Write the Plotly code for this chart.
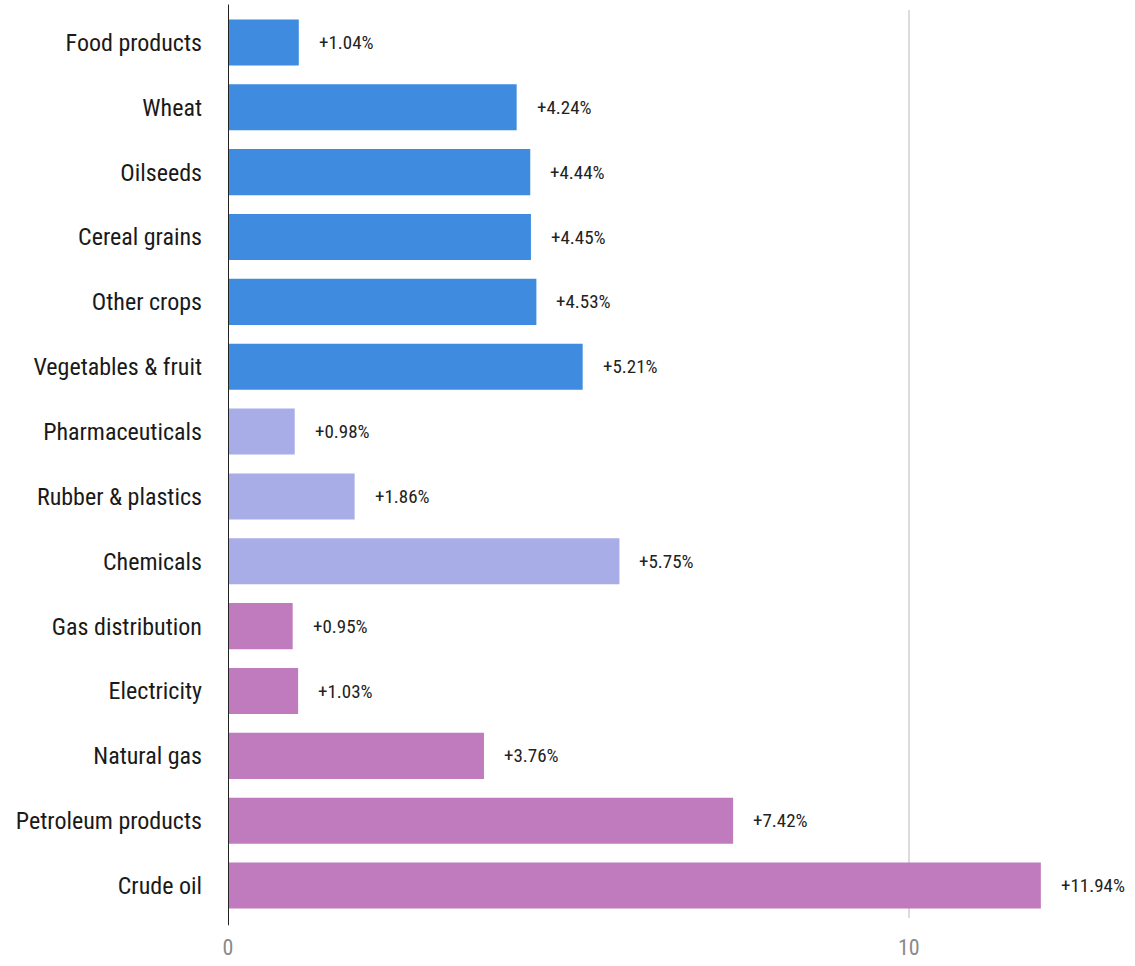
import plotly.graph_objects as go

categories = ["Food products", "Wheat", "Oilseeds", "Cereal grains", "Other crops",
              "Vegetables & fruit", "Pharmaceuticals", "Rubber & plastics", "Chemicals",
              "Gas distribution", "Electricity", "Natural gas", "Petroleum products", "Crude oil"]
values = [1.04, 4.24, 4.44, 4.45, 4.53, 5.21, 0.98, 1.86, 5.75, 0.95, 1.03, 3.76, 7.42, 11.94]
groups = ["food"] * 6 + ["industry"] * 3 + ["energy"] * 5
group_colors = {"food": "#3F8BE0", "industry": "#A8ADE8", "energy": "#C07ABE"}

FONT = "Liberation Sans Narrow, Roboto Condensed, Roboto, sans-serif"

fig = go.Figure()
fig.add_trace(go.Bar(
    x=values, y=categories, orientation="h",
    marker=dict(color=[group_colors[g] for g in groups], line=dict(width=0)),
    hoverinfo="x+y", showlegend=False,
))

for c, v in zip(categories, values):
    fig.add_annotation(x=v, y=c, text=f"+{v:.2f}%", showarrow=False,
                       xanchor="left", xshift=18,
                       font=dict(family=FONT, size=19, color="#222"))

fig.add_shape(type="line", xref="x", yref="paper", x0=0, x1=0, y0=-0.008, y1=1.006,
              line=dict(color="#222", width=2))

fig.update_layout(
    width=1135, height=966,
    margin=dict(l=228, r=22, t=10, b=48, autoexpand=False),
    paper_bgcolor="white", plot_bgcolor="white",
    bargap=0.29,
    font=dict(family=FONT),
    xaxis=dict(range=[0, 13], dtick=10, showgrid=True, gridcolor="#dcdcdc", gridwidth=1.5,
               zeroline=False, showline=False, ticks="", automargin=False,
               tickfont=dict(family=FONT, size=22, color="#8a8a8a"),
               ticklabelstandoff=14),
    yaxis=dict(autorange="reversed", showgrid=False, zeroline=False, showline=False,
               ticks="", automargin=False, tickfont=dict(family=FONT, size=24, color="#1a1a1a"),
               ticklabelstandoff=25),
)

fig.write_html("out.html")
